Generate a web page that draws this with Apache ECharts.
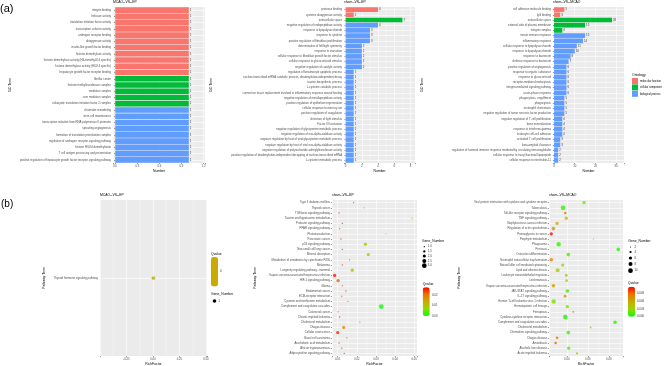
<!DOCTYPE html>
<html>
<head>
<meta charset="utf-8">
<script src="https://cdn.jsdelivr.net/npm/echarts@6/dist/echarts.min.js"></script>
<style>
  html, body { margin: 0; padding: 0; background: #fff; }
  #chart { width: 666px; height: 366px; }
</style>
</head>
<body>
<div id="chart"></div>
<script>
// ---- (a) GO enrichment, terms listed top to bottom ----
const a1Terms = ['integrin binding', 'helicase activity', 'translation initiation factor activity',
  'transcription cofactor activity', 'androgen receptor binding', 'dioxygenase activity',
  'insulin-like growth factor binding', 'histone demethylase activity',
  'histone demethylase activity (H3-trimethyl-K4 specific)', 'histone demethylase activity (H3-K4 specific)',
  'hepatocyte growth factor receptor binding', 'fibrillar center', 'histone methyltransferase complex',
  'mediator complex', 'core mediator complex', 'eukaryotic translation initiation factor 2 complex',
  'chromatin remodeling', 'stem cell maintenance', 'transcription initiation from RNA polymerase II promoter',
  'sprouting angiogenesis', 'formation of translation preinitiation complex',
  'regulation of androgen receptor signaling pathway', 'histone H3-K4 demethylation',
  'T cell antigen processing and presentation',
  'positive regulation of hepatocyte growth factor receptor signaling pathway'];
const a1Counts = [1, 1, 1, 1, 1, 1, 1, 1, 1, 1, 1, 1, 1, 1, 1, 1, 1, 1, 1, 1, 1, 1, 1, 1, 1];
const a1Onto = ['MF', 'MF', 'MF', 'MF', 'MF', 'MF', 'MF', 'MF', 'MF', 'MF', 'MF',
  'CC', 'CC', 'CC', 'CC', 'CC', 'BP', 'BP', 'BP', 'BP', 'BP', 'BP', 'BP', 'BP', 'BP'];

const a2Terms = ['protease binding', 'cysteine dioxygenase activity', 'extracellular space',
  'negative regulation of endopeptidase activity', 'response to lipopolysaccharide', 'response to cytokine',
  'positive regulation of fibroblast proliferation', 'determination of left/right symmetry',
  'response to starvation', 'cellular response to fibroblast growth factor stimulus',
  'cellular response to glucocorticoid stimulus', 'negative regulation of catalytic activity',
  'regulation of keratinocyte apoptotic process',
  'nuclear-transcribed mRNA catabolic process, deadenylation-independent decay',
  'taurine biosynthetic process', 'L-cysteine catabolic process',
  'connective tissue replacement involved in inflammatory response wound healing',
  'negative regulation of metallopeptidase activity', 'positive regulation of epithelium regeneration',
  'cellular response to mercury ion', 'positive regulation of coagulation', 'detection of light stimulus',
  'Factor XII activation', 'negative regulation of glycoprotein metabolic process',
  'negative regulation of exo-alpha-sialidase activity',
  'negative regulation by host of viral glycoprotein metabolic process',
  'negative regulation by host of viral exo-alpha-sialidase activity',
  'negative regulation of polynucleotide adenylyltransferase activity',
  'positive regulation of deadenylation-independent decapping of nuclear-transcribed mRNA',
  'L-cysteine metabolic process'];
const a2Counts = [4, 1, 7, 4, 3, 3, 3, 2, 2, 2, 2, 2, 1, 1, 1, 1, 1, 1, 1, 1, 1, 1, 1, 1, 1, 1, 1, 1, 1, 1];
const a2Onto = ['MF', 'MF', 'CC', 'BP', 'BP', 'BP', 'BP', 'BP', 'BP', 'BP', 'BP', 'BP', 'BP', 'BP', 'BP',
  'BP', 'BP', 'BP', 'BP', 'BP', 'BP', 'BP', 'BP', 'BP', 'BP', 'BP', 'BP', 'BP', 'BP', 'BP'];

const a3Terms = ['cell adhesion molecule binding', 'IgG binding', 'extracellular space',
  'external side of plasma membrane', 'integrin complex', 'innate immune response', 'inflammatory response',
  'cellular response to lipopolysaccharide', 'response to lipopolysaccharide', 'response to bacterium',
  'defense response to bacterium', 'positive regulation of angiogenesis', 'response to organic substance',
  'response to glucocorticoid', 'receptor-mediated endocytosis', 'integrin-mediated signaling pathway',
  'acute-phase response', 'phagocytosis, engulfment', 'phagocytosis', 'neutrophil chemotaxis',
  'negative regulation of tumor necrosis factor production', 'negative regulation of T cell proliferation',
  'bone mineralization', 'response to interferon-gamma', 'leukocyte cell-cell adhesion',
  'activated T cell proliferation', 'beta-amyloid clearance',
  'regulation of humoral immune response mediated by circulating immunoglobulin',
  'cellular response to triacyl bacterial lipopeptide', 'cellular response to interleukin-11'];
const a3Counts = [5, 3, 28, 15, 4, 15, 14, 11, 10, 8, 7, 6, 6, 6, 6, 6, 6, 5, 5, 5, 5, 4, 4, 4, 4, 3, 3, 2, 2, 2];
const a3Onto = ['MF', 'MF', 'CC', 'CC', 'CC', 'BP', 'BP', 'BP', 'BP', 'BP', 'BP', 'BP', 'BP', 'BP', 'BP',
  'BP', 'BP', 'BP', 'BP', 'BP', 'BP', 'BP', 'BP', 'BP', 'BP', 'BP', 'BP', 'BP', 'BP', 'BP'];

const a1Ticks = [0, 0.3, 0.6, 0.9, 1.2];
const a2Ticks = [0, 2, 4, 6, 8];
const a3Ticks = [0, 10, 20, 30];

// ---- (b) KEGG enrichment ----
const b1Paths = ['Thyroid hormone signaling pathway'];
const b1Rich = [0.005];
const b1Q = [0];
const b1Genes = [1];

const b2Paths = ['Type II diabetes mellitus', 'Thyroid cancer', 'TGF-beta signaling pathway',
  'Taurine and hypotaurine metabolism', 'Prolactin signaling pathway', 'PPAR signaling pathway',
  'Phototransduction', 'Pancreatic cancer', 'p53 signaling pathway', 'Non-small cell lung cancer',
  'Mineral absorption', 'Metabolism of xenobiotics by cytochrome P450', 'Melanoma',
  'Longevity regulating pathway - mammal', 'Kaposi sarcoma-associated herpesvirus infection',
  'HIF-1 signaling pathway', 'Glioma', 'Endometrial cancer', 'ECM-receptor interaction',
  'Cysteine and methionine metabolism', 'Complement and coagulation cascades', 'Colorectal cancer',
  'Chronic myeloid leukemia', 'Cholesterol metabolism', 'Chagas disease', 'Cellular senescence',
  'Basal cell carcinoma', 'Arachidonic acid metabolism', 'African trypanosomiasis',
  'Adipocytokine signaling pathway'];
const b2Rich = [0.0183, 0.0238, 0.0107, 0.049, 0.0124, 0.011, 0.0352, 0.0117, 0.0245, 0.0124,
  0.026, 0.0162, 0.0124, 0.0176, 0.0084, 0.0102, 0.0124, 0.0143, 0.0121, 0.0153,
  0.0328, 0.0102, 0.011, 0.0216, 0.0131, 0.01, 0.0148, 0.0107, 0.0121, 0.0134];
const b2Q = [0.024, 0.018, 0.024, 0.009, 0.024, 0.024, 0.010, 0.024, 0.010, 0.024,
  0.009, 0.023, 0.024, 0.011, 0.026, 0.022, 0.024, 0.024, 0.024, 0.022,
  0.0005, 0.024, 0.024, 0.018, 0.017, 0.025, 0.024, 0.024, 0.024, 0.024];
const b2Genes = [1, 1, 1, 1, 1, 1, 1, 1, 2, 1, 2, 1, 1, 2, 2, 2, 1, 1, 1, 1, 3, 1, 1, 1, 2, 2, 1, 1, 1, 1];
const b2Ticks = [0.01, 0.02, 0.03, 0.04, 0.05];

const b3Paths = ['Viral protein interaction with cytokine and cytokine receptor', 'Tuberculosis',
  'Toll-like receptor signaling pathway', 'TNF signaling pathway', 'Staphylococcus aureus infection',
  'Regulation of actin cytoskeleton', 'Proteoglycans in cancer', 'Porphyrin metabolism', 'Phagosome',
  'Pertussis', 'Osteoclast differentiation', 'Neutrophil extracellular trap formation',
  'Natural killer cell mediated cytotoxicity', 'Lipid and atherosclerosis',
  'Leukocyte transendothelial migration', 'Leishmaniasis', 'Kaposi sarcoma-associated herpesvirus infection',
  'JAK-STAT signaling pathway', 'IL-17 signaling pathway', 'Human T-cell leukemia virus 1 infection',
  'Hematopoietic cell lineage', 'Ferroptosis', 'Cytokine-cytokine receptor interaction',
  'Complement and coagulation cascades', 'Cholesterol metabolism', 'Chemokine signaling pathway',
  'Chagas disease', 'Amoebiasis', 'Alcoholic liver disease', 'Acute myeloid leukemia'];
const b3Rich = [0.0564, 0.0364, 0.0386, 0.0395, 0.0307, 0.0272, 0.0252, 0.0652, 0.0322, 0.089,
  0.0414, 0.0252, 0.036, 0.0312, 0.0395, 0.0398, 0.0272, 0.0405, 0.0383, 0.0275,
  0.0405, 0.0462, 0.0386, 0.0859, 0.0627, 0.0414, 0.0307, 0.0293, 0.0417, 0.0497];
const b3Q = [0.002, 0.001, 0.008, 0.005, 0.006, 0.007, 0.0115, 0.009, 0.001, 0.0005,
  0.0015, 0.008, 0.003, 0.0035, 0.005, 0.004, 0.0065, 0.0015, 0.0075, 0.0025,
  0.002, 0.009, 0.0005, 0.0008, 0.005, 0.001, 0.0085, 0.009, 0.0015, 0.004];
const b3Genes = [6, 10, 5, 6, 6, 7, 6, 2, 9, 7, 7, 7, 6, 8, 5, 5, 7, 7, 5, 9, 6, 3, 10, 7, 3, 7, 5, 5, 6, 4];
const b3Ticks = [0.04, 0.06, 0.08];
const b1Ticks = [-0.25, 0, 0.25, 0.5];

const b2SizeKeys = [1, 1.5, 2, 2.5, 3];
const b3SizeKeys = [2, 4, 6, 8, 10];
const b2QTicks = [0.02, 0.01, 0];
const b3QTicks = [0.009, 0.006, 0.003, 0];

// ---- styling ----
const FONT = 'Liberation Sans';
const ontoColor = { MF: '#F8766D', CC: '#00BA38', BP: '#619CFF' };
const ontoName = { MF: 'molecular function', CC: 'cellular component', BP: 'biological process' };
const qGradient = ['#00FF00', '#98D700', '#C9AB00', '#E87600', '#FF0000'];

function sizeB2(n) { return 1.3 + (Math.sqrt(n) - 1) / (Math.sqrt(3) - 1) * 3.4; }
function sizeB3(n) { return 1.0 + (Math.sqrt(n) - Math.sqrt(2)) / (Math.sqrt(10) - Math.sqrt(2)) * 3.7; }

function tickFmt(ticks, digits) {
  return function (v) {
    const t = ticks.find(t => Math.abs(t - v) < 1e-7);
    return t === undefined ? '' : t.toFixed(digits);
  };
}

const grids = [
  { left: 113, top: 7, width: 92, height: 156 },
  { left: 344, top: 7, width: 71, height: 156 },
  { left: 553, top: 7, width: 71, height: 156 },
  { left: 100, top: 200, width: 107, height: 156 },
  { left: 332, top: 200, width: 85, height: 156 },
  { left: 549, top: 200, width: 74, height: 156 }
].map(g => Object.assign(g, { show: true, backgroundColor: '#EBEBEB', borderWidth: 0, outerBoundsMode: 'none' }));

function xValueAxis(gi, min, max, opts, ticks, digits, name) {
  return Object.assign({
    type: 'value', gridIndex: gi, min: min, max: max,
    axisLine: { show: false },
    axisTick: { show: true, length: 1.2, lineStyle: { color: '#333', width: 0.5 } },
    axisLabel: { fontSize: 2.8, color: '#4D4D4D', margin: 2, fontFamily: FONT, formatter: tickFmt(ticks, digits) },
    splitLine: { show: true, lineStyle: { color: '#fff', width: 0.6 } },
    minorTick: { show: false, splitNumber: 2 },
    minorSplitLine: { show: true, lineStyle: { color: '#fff', width: 0.3 } },
    name: name, nameLocation: 'middle', nameGap: 7,
    nameTextStyle: { fontSize: 3.4, color: '#000', fontFamily: FONT }
  }, opts);
}

function yCatAxis(gi, data, name, gap) {
  return {
    type: 'category', gridIndex: gi, data: data, inverse: true,
    axisLine: { show: false },
    axisTick: { show: true, length: 1.2, alignWithLabel: true, interval: 0, lineStyle: { color: '#333', width: 0.5 } },
    axisLabel: { fontSize: 2.8, color: '#4D4D4D', margin: 2, interval: 0, fontFamily: FONT },
    splitLine: { show: true, alignWithLabel: true, interval: 0, lineStyle: { color: '#fff', width: 0.6 } },
    name: name, nameLocation: 'middle', nameGap: gap, nameRotate: 90,
    nameTextStyle: { fontSize: 3.4, color: '#000', fontFamily: FONT }
  };
}

function barSeries(gi, counts, onto) {
  return ['MF', 'CC', 'BP'].map(k => ({
    type: 'bar', name: ontoName[k], xAxisIndex: gi, yAxisIndex: gi, stack: 'g' + gi,
    barWidth: '90%', itemStyle: { color: ontoColor[k] },
    label: { show: true, position: 'right', distance: 1, fontSize: 2.8, color: '#333', fontFamily: FONT },
    data: counts.map((c, i) => onto[i] === k ? c : '-')
  }));
}

function dotSeries(gi, rich, q, genes, sizeFn) {
  return {
    type: 'scatter', xAxisIndex: gi, yAxisIndex: gi,
    data: rich.map((r, i) => [r, i, q[i], genes[i]]),
    symbolSize: v => sizeFn(v[3])
  };
}

function txt(text, x, y, size, opts) {
  return {
    type: 'text', silent: true,
    style: Object.assign({ text: text, x: x, y: y, fontSize: size, fontFamily: FONT, fill: '#000',
      textVerticalAlign: 'middle' }, opts || {})
  };
}

const graphics = [
  txt('(a)', 0, 8.5, 11),
  txt('(b)', 1, 204.5, 10),
  txt('Ontology', 632, 75.5, 3.4),
  // b1 legends
  txt('Qvalue', 211, 254, 3.4),
  txt('0', 220, 271.5, 2.8, { fill: '#333' }),
  txt('Gene_Number', 211, 294, 3.4),
  { type: 'circle', silent: true, shape: { cx: 214.5, cy: 301, r: 1.8 }, style: { fill: '#000' } },
  txt('1', 218.5, 301, 2.8, { fill: '#333' }),
  // b2 legends
  txt('Gene_Number', 422, 241, 3.4),
  txt('Qvalue', 422.7, 284, 3.4),
  // b3 legends
  txt('Gene_Number', 628.3, 241, 3.4),
  txt('Qvalue', 628, 283.3, 3.4)
];
const b2KeyY = [246.7, 251.3, 256, 261, 265.7];
b2SizeKeys.forEach((k, i) => {
  graphics.push({ type: 'circle', silent: true, shape: { cx: 424.3, cy: b2KeyY[i], r: sizeB2(k) / 2 }, style: { fill: '#000' } });
  graphics.push(txt(k.toFixed(1), 427.8, b2KeyY[i], 2.8, { fill: '#333' }));
});
const b3KeyY = [247, 252, 258, 264, 270.7];
b3SizeKeys.forEach((k, i) => {
  graphics.push({ type: 'circle', silent: true, shape: { cx: 630.5, cy: b3KeyY[i], r: sizeB3(k) / 2 }, style: { fill: '#000' } });
  graphics.push(txt(String(k), 634.5, b3KeyY[i], 2.8, { fill: '#333' }));
});
// colour bar tick labels, placed along each bar's value range
const b2Bar = { top: 287.3, h: 28.7, min: 0, max: 0.027 };
b2QTicks.forEach(v => graphics.push(txt(v.toFixed(2), 432, b2Bar.top + b2Bar.h - (v - b2Bar.min) / (b2Bar.max - b2Bar.min) * b2Bar.h, 2.8, { fill: '#333' })));
const b3Bar = { top: 286.7, h: 30, min: 0, max: 0.0117 };
b3QTicks.forEach(v => graphics.push(txt(v.toFixed(3), 637, b3Bar.top + b3Bar.h - (v - b3Bar.min) / (b3Bar.max - b3Bar.min) * b3Bar.h, 2.8, { fill: '#333' })));

const titleStyle = { fontSize: 3.4, color: '#000', fontWeight: 'normal', fontFamily: FONT };
const option = {
  animation: false,
  backgroundColor: '#fff',
  title: [
    { text: 'MCAO--VS--EP', left: 113, top: 1 },
    { text: 'sham--VS--EP', left: 344, top: 1 },
    { text: 'sham--VS--MCAO', left: 553, top: 1 },
    { text: 'MCAO--VS--EP', left: 100, top: 194 },
    { text: 'sham--VS--EP', left: 332, top: 194 },
    { text: 'sham--VS--MCAO', left: 549, top: 194 }
  ].map(t => Object.assign(t, { padding: 0, textStyle: titleStyle })),
  grid: grids,
  legend: {
    data: ['molecular function', 'cellular component', 'biological process'],
    orient: 'vertical', left: 632, top: 78, padding: 0, itemGap: 0.4,
    itemWidth: 6, itemHeight: 6, icon: 'rect', selectedMode: false,
    textStyle: { fontSize: 2.6, color: '#000', fontFamily: FONT, padding: [0, 0, 0, -3] }
  },
  xAxis: [
    xValueAxis(0, -0.03, 1.22, { splitNumber: 4 }, a1Ticks, 1, 'Number'),
    xValueAxis(1, -0.2, 8.55, { splitNumber: 4 }, a2Ticks, 0, 'Number'),
    xValueAxis(2, -0.5, 33.8, { splitNumber: 3 }, a3Ticks, 0, 'Number'),
    xValueAxis(3, -0.5, 0.51, { interval: 0.25 }, b1Ticks, 2, 'RichFactor'),
    xValueAxis(4, 0.007, 0.0515, { splitNumber: 4 }, b2Ticks, 2, 'RichFactor'),
    xValueAxis(5, 0.023, 0.0935, { splitNumber: 3 }, b3Ticks, 2, 'RichFactor')
  ],
  yAxis: [
    yCatAxis(0, a1Terms, 'GO Term', 101),
    yCatAxis(1, a2Terms, 'GO Term', 131),
    yCatAxis(2, a3Terms, 'GO Term', 129),
    yCatAxis(3, b1Paths, 'Pathway Term', 54),
    yCatAxis(4, b2Paths, 'Pathway Term', 75),
    yCatAxis(5, b3Paths, 'Pathway Term', 88)
  ],
  visualMap: [
    { type: 'continuous', seriesIndex: 9, dimension: 2, min: 0, max: 1, inRange: { color: ['#C9AB00', '#C9AB00'] },
      left: 211, top: 257, itemWidth: 7, itemHeight: 29.5, padding: 0, calculable: false },
    { type: 'continuous', seriesIndex: 10, dimension: 2, min: b2Bar.min, max: b2Bar.max, inRange: { color: qGradient },
      left: 422.7, top: b2Bar.top, itemWidth: 7, itemHeight: b2Bar.h, padding: 0, calculable: false },
    { type: 'continuous', seriesIndex: 11, dimension: 2, min: b3Bar.min, max: b3Bar.max, inRange: { color: qGradient },
      left: 628, top: b3Bar.top, itemWidth: 7, itemHeight: b3Bar.h, padding: 0, calculable: false }
  ],
  series: [].concat(
    barSeries(0, a1Counts, a1Onto),
    barSeries(1, a2Counts, a2Onto),
    barSeries(2, a3Counts, a3Onto),
    [dotSeries(3, b1Rich, b1Q, b1Genes, () => 3.7),
     dotSeries(4, b2Rich, b2Q, b2Genes, sizeB2),
     dotSeries(5, b3Rich, b3Q, b3Genes, sizeB3)]
  ),
  graphic: graphics
};

const chart = echarts.init(document.getElementById('chart'));
chart.setOption(option);
</script>
</body>
</html>
